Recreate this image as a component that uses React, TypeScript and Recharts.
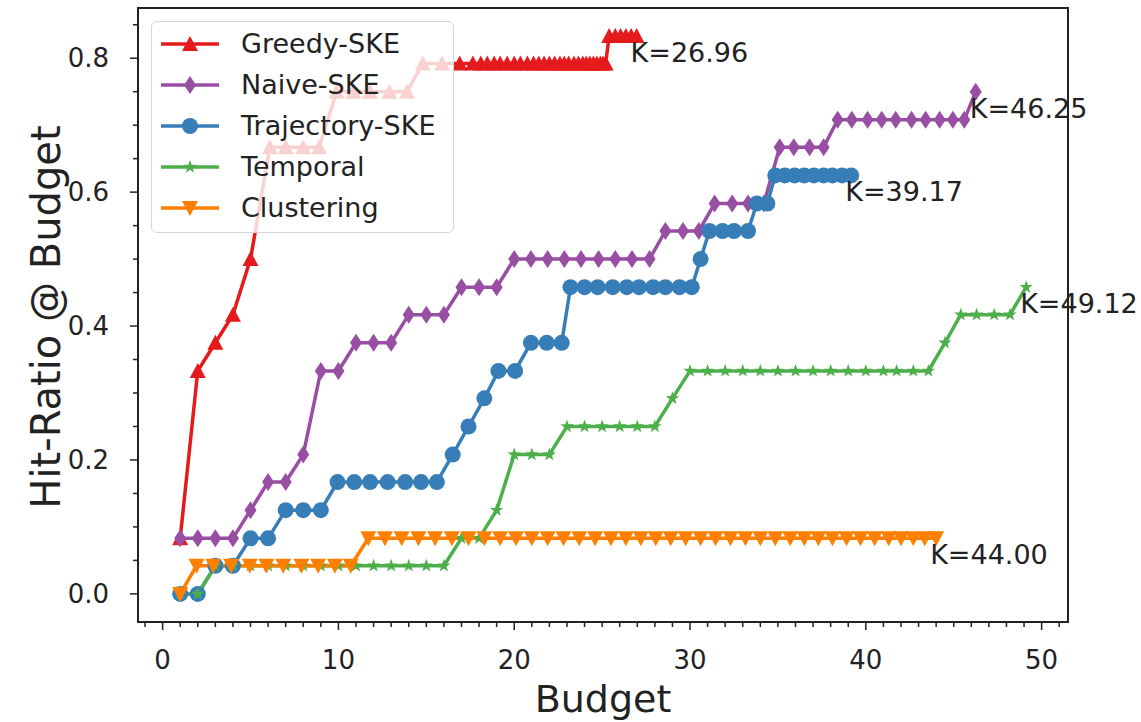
import { LineChart, Line, XAxis, YAxis, Legend, ReferenceArea } from 'recharts'

// budgets (x) and hit ratios (y)
const greedyBudget = [1, 2, 3, 4, 5, 6.1, 7, 8, 8.9, 9.9, 10.85, 11.8, 12.9, 13.9, 14.8, 15.9, 16.9, 17.65, 18.1, 18.47, 18.86, 19.2, 19.6, 20.0, 20.35, 20.75, 21.1, 21.4, 21.7, 22.0, 22.3, 22.6, 22.85, 23.1, 23.4, 23.65, 23.9, 24.1, 24.3, 24.5, 24.7, 24.9, 25.05, 25.2, 25.4, 25.75, 26.05, 26.35, 26.65, 26.96]
const greedyHit = [0.083, 0.333, 0.375, 0.417, 0.5, 0.667, 0.667, 0.667, 0.667, 0.75, 0.75, 0.75, 0.75, 0.75, 0.792, 0.792, 0.792, 0.792, 0.792, 0.792, 0.792, 0.792, 0.792, 0.792, 0.792, 0.792, 0.792, 0.792, 0.792, 0.792, 0.792, 0.792, 0.792, 0.792, 0.792, 0.792, 0.792, 0.792, 0.792, 0.792, 0.792, 0.792, 0.792, 0.792, 0.833, 0.833, 0.833, 0.833, 0.833, 0.833]

const naiveBudget = [1, 2, 3, 4, 5, 6, 7, 8, 9, 10, 11, 12, 13, 14, 15, 16, 17, 18, 19, 20, 20.95, 21.9, 22.85, 23.8, 24.8, 25.75, 26.7, 27.7, 28.6, 29.6, 30.5, 31.4, 32.4, 33.3, 34.2, 35.1, 35.9, 36.8, 37.6, 38.4, 39.2, 40.1, 40.9, 41.7, 42.6, 43.4, 44.2, 44.95, 45.6, 46.25]
const naiveHit = [0.083, 0.083, 0.083, 0.083, 0.125, 0.167, 0.167, 0.208, 0.333, 0.333, 0.375, 0.375, 0.375, 0.417, 0.417, 0.417, 0.458, 0.458, 0.458, 0.5, 0.5, 0.5, 0.5, 0.5, 0.5, 0.5, 0.5, 0.5, 0.542, 0.542, 0.542, 0.583, 0.583, 0.583, 0.583, 0.667, 0.667, 0.667, 0.667, 0.708, 0.708, 0.708, 0.708, 0.708, 0.708, 0.708, 0.708, 0.708, 0.708, 0.75]

const trajBudget = [1, 2, 3, 4, 5, 6, 7, 8, 9, 9.95, 10.9, 11.8, 12.8, 13.8, 14.7, 15.6, 16.5, 17.4, 18.3, 19.1, 20.05, 20.95, 21.85, 22.7, 23.2, 24.0, 24.75, 25.6, 26.4, 27.1, 27.9, 28.6, 29.4, 30.1, 30.6, 31.1, 31.85, 32.5, 33.3, 33.8, 34.4, 34.85, 35.4, 35.95, 36.5, 37.05, 37.6, 38.1, 38.65, 39.17]
const trajHit = [0, 0, 0.042, 0.042, 0.083, 0.083, 0.125, 0.125, 0.125, 0.167, 0.167, 0.167, 0.167, 0.167, 0.167, 0.167, 0.208, 0.25, 0.292, 0.333, 0.333, 0.375, 0.375, 0.375, 0.458, 0.458, 0.458, 0.458, 0.458, 0.458, 0.458, 0.458, 0.458, 0.458, 0.5, 0.542, 0.542, 0.542, 0.542, 0.583, 0.583, 0.625, 0.625, 0.625, 0.625, 0.625, 0.625, 0.625, 0.625, 0.625]

const temporalBudget = [1, 2, 3, 4, 5, 6, 7, 8, 9, 10, 11, 12, 13, 14, 15, 16, 17, 18, 19, 20, 21, 22, 23, 24, 25, 26, 27, 28, 29, 30, 31, 32, 33, 34, 35, 36, 37, 38, 39, 40, 41, 41.75, 42.7, 43.56, 44.5, 45.4, 46.3, 47.3, 48.2, 49.12]
const temporalHit = [0, 0, 0.042, 0.042, 0.042, 0.042, 0.042, 0.042, 0.042, 0.042, 0.042, 0.042, 0.042, 0.042, 0.042, 0.042, 0.083, 0.083, 0.125, 0.208, 0.208, 0.208, 0.25, 0.25, 0.25, 0.25, 0.25, 0.25, 0.292, 0.333, 0.333, 0.333, 0.333, 0.333, 0.333, 0.333, 0.333, 0.333, 0.333, 0.333, 0.333, 0.333, 0.333, 0.333, 0.375, 0.417, 0.417, 0.417, 0.417, 0.458]

const clusterBudget = [1, 1.93, 2.88, 3.9, 4.96, 5.9, 6.86, 7.9, 8.85, 9.8, 10.7, 11.7, 12.65, 13.6, 14.55, 15.5, 16.45, 17.4, 18.3, 19.2, 20.1, 21.0, 21.9, 22.8, 23.7, 24.6, 25.5, 26.35, 27.2, 28.05, 28.9, 29.75, 30.6, 31.45, 32.3, 33.15, 34.0, 34.85, 35.7, 36.5, 37.3, 38.1, 38.9, 39.7, 40.5, 41.3, 42.0, 42.7, 43.35, 44.0]
const clusterHit = [0, 0.042, 0.042, 0.042, 0.042, 0.042, 0.042, 0.042, 0.042, 0.042, 0.042, 0.083, 0.083, 0.083, 0.083, 0.083, 0.083, 0.083, 0.083, 0.083, 0.083, 0.083, 0.083, 0.083, 0.083, 0.083, 0.083, 0.083, 0.083, 0.083, 0.083, 0.083, 0.083, 0.083, 0.083, 0.083, 0.083, 0.083, 0.083, 0.083, 0.083, 0.083, 0.083, 0.083, 0.083, 0.083, 0.083, 0.083, 0.083, 0.083]

const xMajor = [0, 10, 20, 30, 40, 50]
const xMinor = Array.from({ length: 53 }, (_, i) => i - 1)
const yMajor = [0, 0.2, 0.4, 0.6, 0.8]
const yMinor = Array.from({ length: 18 }, (_, i) => Math.round(i * 5) / 100)

const FONT = '"DejaVu Sans", sans-serif'

const zip = (xs: number[], ys: number[]) => xs.map((x, i) => ({ x, y: ys[i] }))

const series = [
  { name: 'Greedy-SKE', color: '#e41a1c', marker: 'triUp', data: zip(greedyBudget, greedyHit) },
  { name: 'Naive-SKE', color: '#984ea3', marker: 'diamond', data: zip(naiveBudget, naiveHit) },
  { name: 'Trajectory-SKE', color: '#377eb8', marker: 'circle', data: zip(trajBudget, trajHit) },
  { name: 'Temporal', color: '#4daf4a', marker: 'star', data: zip(temporalBudget, temporalHit) },
  { name: 'Clustering', color: '#ff7f00', marker: 'triDown', data: zip(clusterBudget, clusterHit) },
]

function Marker({ kind, cx, cy, color }: { kind: string; cx: number; cy: number; color: string }) {
  if (cx == null || cy == null) return null
  if (kind === 'circle') return <circle cx={cx} cy={cy} r={8} fill={color} />
  if (kind === 'triUp') {
    return <polygon points={`${cx},${cy - 8} ${cx - 8},${cy + 7} ${cx + 8},${cy + 7}`} fill={color} />
  }
  if (kind === 'triDown') {
    return <polygon points={`${cx},${cy + 8} ${cx - 8},${cy - 7} ${cx + 8},${cy - 7}`} fill={color} />
  }
  if (kind === 'diamond') {
    return <polygon points={`${cx},${cy - 9} ${cx - 6},${cy} ${cx},${cy + 9} ${cx + 6},${cy}`} fill={color} />
  }
  // star
  const pts: string[] = []
  for (let k = 0; k < 10; k++) {
    const r = k % 2 === 0 ? 7 : 2.8
    const a = -Math.PI / 2 + (k * Math.PI) / 5
    pts.push(`${cx + r * Math.cos(a)},${cy + r * Math.sin(a)}`)
  }
  return <polygon points={pts.join(' ')} fill={color} />
}

function XTick({ x, y, payload }: any) {
  const major = xMajor.includes(payload.value)
  return (
    <g>
      <line x1={x} x2={x} y1={y} y2={y + (major ? 8 : 5)} stroke="#222" strokeWidth={1.5} />
      {major && (
        <text x={x} y={y + 47} textAnchor="middle" fontSize={26} fontFamily={FONT} fill="#222">
          {payload.value}
        </text>
      )}
    </g>
  )
}

function YTick({ x, y, payload }: any) {
  const v = payload.value
  const major = yMajor.some((m) => Math.abs(m - v) < 1e-6)
  return (
    <g>
      <line x1={x - (major ? 8 : 5)} x2={x} y1={y} y2={y} stroke="#222" strokeWidth={1.5} />
      {major && (
        <text x={x - 29} y={y + 9} textAnchor="end" fontSize={26} fontFamily={FONT} fill="#222">
          {v.toFixed(1)}
        </text>
      )}
    </g>
  )
}

function endLabel(count: number, last: number) {
  return (props: any) => {
    if (props.index !== count - 1) return null
    return (
      <text x={props.x - 6} y={props.y + 26} fontSize={27} fontFamily={FONT} fill="#222">
        {`K=${last.toFixed(2)}`}
      </text>
    )
  }
}

function LegendBox() {
  return (
    <div
      style={{
        width: 303,
        height: 212,
        boxSizing: 'border-box',
        border: '1.5px solid #d6d6d6',
        borderRadius: 6,
        background: 'rgba(255,255,255,0.8)',
        position: 'relative',
        fontFamily: FONT,
      }}
    >
      {series.map((s, i) => (
        <div key={s.name} style={{ position: 'absolute', left: 8, top: 2 + i * 41, height: 40, display: 'flex', alignItems: 'center' }}>
          <svg width={60} height={40}>
            <line x1={1} x2={59} y1={20} y2={20} stroke={s.color} strokeWidth={3.5} />
            <Marker kind={s.marker} cx={30} cy={20} color={s.color} />
          </svg>
          <span style={{ marginLeft: 21, fontSize: 27, color: '#222', lineHeight: '40px' }}>{s.name}</span>
        </div>
      ))}
    </div>
  )
}

export default function App() {
  return (
    <div style={{ position: 'absolute', left: 0, top: 0, width: 1141, height: 722, background: '#fff' }}>
      <LineChart width={1141} height={722} margin={{ top: 8, right: 73, left: 0, bottom: 0 }}>
        <XAxis
          dataKey="x"
          type="number"
          domain={[-1.4, 51.5]}
          allowDataOverflow
          ticks={xMinor}
          interval={0}
          tick={<XTick />}
          tickLine={false}
          tickSize={0}
          tickMargin={0}
          axisLine={false}
          height={100}
          label={({ viewBox }: any) => (
            <text x={viewBox.x + viewBox.width / 2} y={viewBox.y + 90} textAnchor="middle" fontSize={38} fontFamily={FONT} fill="#222">
              Budget
            </text>
          )}
        />
        <YAxis
          dataKey="y"
          type="number"
          domain={[-0.042, 0.875]}
          allowDataOverflow
          ticks={yMinor}
          interval={0}
          tick={<YTick />}
          tickLine={false}
          tickSize={0}
          tickMargin={0}
          axisLine={false}
          width={138}
          label={({ viewBox }: any) => {
            const cx = 46
            const cy = viewBox.y + viewBox.height / 2 + 2
            return (
              <text x={cx} y={cy} transform={`rotate(-90, ${cx}, ${cy})`} textAnchor="middle" dominantBaseline="central" fontSize={40} fontFamily={FONT} fill="#222">
                Hit-Ratio @ Budget
              </text>
            )
          }}
        />
        {series.map((s) => (
          <Line
            key={s.name}
            data={s.data}
            dataKey="y"
            name={s.name}
            type="linear"
            stroke={s.color}
            strokeWidth={3.5}
            isAnimationActive={false}
            activeDot={false}
            dot={(p: any) => <Marker key={`${s.name}-${p.index}`} kind={s.marker} cx={p.cx} cy={p.cy} color={s.color} />}
            label={endLabel(s.data.length, s.data[s.data.length - 1].x)}
          />
        ))}
        <ReferenceArea x1={-1.4} x2={51.5} y1={-0.042} y2={0.875} fill="none" stroke="#222" strokeWidth={2} ifOverflow="visible" />
        <Legend
          layout="vertical"
          align="center"
          verticalAlign="middle"
          wrapperStyle={{ position: 'absolute', left: 151, top: 21, width: 303, height: 212 }}
          content={() => <LegendBox />}
        />
      </LineChart>
    </div>
  )
}
